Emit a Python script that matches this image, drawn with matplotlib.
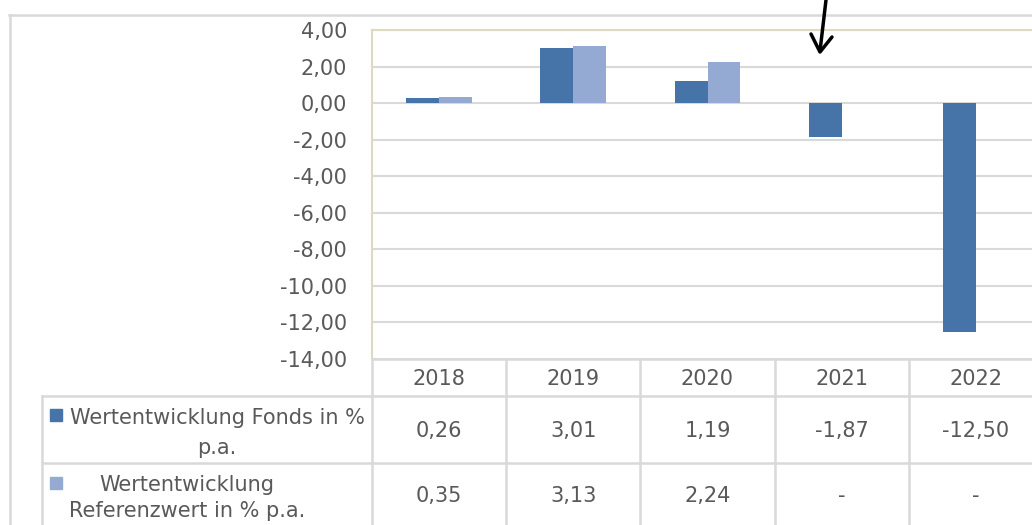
import matplotlib
matplotlib.use("Agg")
import matplotlib.pyplot as plt
from matplotlib.lines import Line2D
from matplotlib.patches import Rectangle
import numpy as np

years = ["2018", "2019", "2020", "2021", "2022"]
fonds = [0.26, 3.01, 1.19, -1.87, -12.50]
referenz = [0.35, 3.13, 2.24, None, None]
series_labels = ["Wertentwicklung Fonds in %\np.a.", "Wertentwicklung\nReferenzwert in % p.a."]
yticks = list(range(-14, 5, 2))

C_FONDS = "#4673a8"
C_REF = "#95aad2"
GRID = "#d9d9d9"
TAN = "#ddd9c3"
TXT = "#595959"
FONT = "DejaVu Sans"
FS = 15

W, H = 1032, 525
fig = plt.figure(figsize=(W / 100, H / 100), dpi=100)

# pixel geometry
px_left, px_top, px_bottom = 372, 30, 359
colw = 134.2
px_right = px_left + colw * len(years)

ax = fig.add_axes([px_left / W, 1 - px_bottom / H, (px_right - px_left) / W, (px_bottom - px_top) / H])
ax.set_xlim(0, len(years))
ax.set_ylim(-14, 4)
x = np.arange(len(years)) + 0.5
bw = 0.245
ax.bar(x - bw / 2, fonds, width=bw, color=C_FONDS, zorder=3)
ref_vals = [np.nan if v is None else v for v in referenz]
ax.bar(x + bw / 2, ref_vals, width=bw, color=C_REF, zorder=3)

ax.set_yticks(yticks)
ax.set_yticklabels([f"{v:.2f}".replace(".", ",") for v in yticks], fontsize=FS, color=TXT, family=FONT)
ax.tick_params(axis="y", length=0, pad=18)
ax.set_xticks([])
ax.yaxis.grid(True, color=GRID, linewidth=1.5, zorder=0)
for s in ["right", "bottom"]:
    ax.spines[s].set_visible(False)
ax.spines["top"].set_color(TAN)
ax.spines["left"].set_color(TAN)
ax.spines["top"].set_linewidth(1.5)
ax.spines["left"].set_linewidth(1.5)

# overlay in pixel coordinates for table, frame, arrow
ov = fig.add_axes([0, 0, 1, 1], facecolor="none")
ov.set_xlim(0, W)
ov.set_ylim(H, 0)
ov.axis("off")

def hline(y, x0, x1, c=GRID, lw=1.8):
    ov.add_line(Line2D([x0, x1], [y, y], color=c, linewidth=lw))

def vline(xx, y0, y1, c=GRID, lw=1.8):
    ov.add_line(Line2D([xx, xx], [y0, y1], color=c, linewidth=lw))

# outer chart frame
hline(15, 9, W)
vline(9.5, 15, H)

# table
row_y = [px_bottom, 396, 463, H + 5]
hline(px_bottom, px_left, W)
hline(row_y[1], 42, W)
hline(row_y[2], 42, W)
vline(42, row_y[1], H)
for i in range(len(years) + 1):
    vline(px_left + i * colw, px_bottom, H)

for i, yr in enumerate(years):
    cx = px_left + (i + 0.5) * colw
    ov.text(cx, 379, yr, ha="center", va="center", fontsize=FS, color=TXT, family=FONT)
    ov.text(cx, 431, f"{fonds[i]:.2f}".replace(".", ","), ha="center", va="center",
            fontsize=FS, color=TXT, family=FONT)
    rv = referenz[i]
    ov.text(cx, 496, "-" if rv is None else f"{rv:.2f}".replace(".", ","), ha="center",
            va="center", fontsize=FS, color=TXT, family=FONT)

# legend keys and row labels
ov.add_patch(Rectangle((50, 409), 12, 12, color=C_FONDS))
ov.add_patch(Rectangle((50, 477), 12, 12, color=C_REF))
ov.text(217, 433, series_labels[0], ha="center", va="center", fontsize=FS, color=TXT,
        family=FONT, linespacing=1.6, multialignment="center")
ov.text(187, 498, series_labels[1], ha="center", va="center", fontsize=FS, color=TXT,
        family=FONT, linespacing=1.4, multialignment="center")

# hand-drawn arrow
ov.add_line(Line2D([826, 820], [0, 51], color="black", linewidth=2.5, solid_capstyle="round"))
ov.add_line(Line2D([811, 820, 832], [34, 52, 37], color="black", linewidth=2.5,
                   solid_capstyle="round", solid_joinstyle="round"))

fig.savefig("out.png", dpi=100)
